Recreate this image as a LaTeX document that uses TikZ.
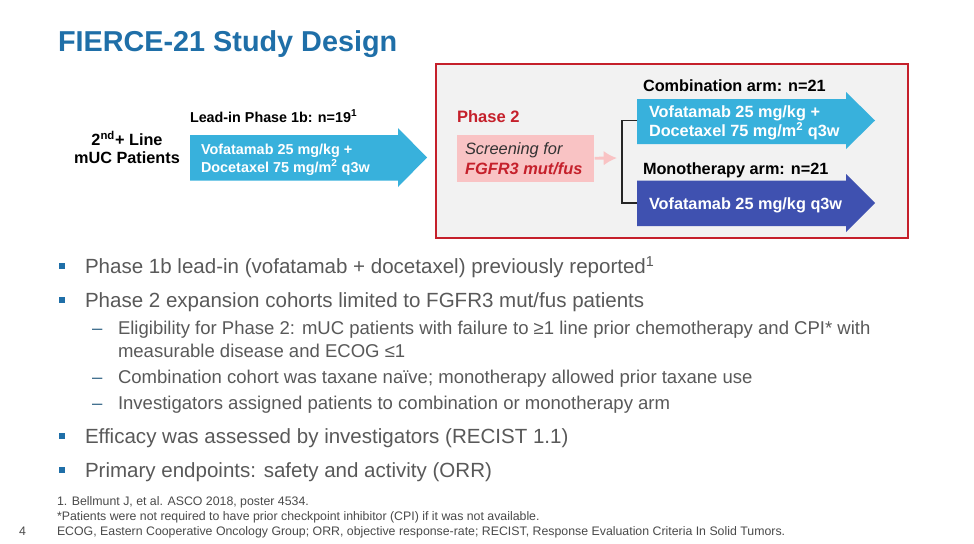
\documentclass[tikz,border=0pt]{standalone}
\usepackage{fontspec}
\usetikzlibrary{arrows.meta}
\setmainfont{Liberation Sans}
\definecolor{titleblue}{HTML}{1F6FA8}
\definecolor{armcyan}{HTML}{38B1DC}
\definecolor{armblue}{HTML}{3F51B0}
\definecolor{boxred}{HTML}{C5202B}
\definecolor{panelgray}{HTML}{F2F2F2}
\definecolor{pinkfill}{HTML}{F9C3C4}
\definecolor{bodygray}{HTML}{595959}
\definecolor{footgray}{HTML}{4A4A4A}
\newcommand{\fs}[1]{\fontsize{#1}{#1}\selectfont}
\newcommand{\sq}{\textsuperscript}
\tikzset{
  x=0.75pt,y=-0.75pt,
  lab/.style={anchor=base west,inner sep=0pt,outer sep=0pt},
  armtext/.style={lab,text=white,font=\fs{12.2}\bfseries},
  armlabel/.style={lab,text=black,font=\fs{12.2}\bfseries},
  leadtext/.style={lab,text=white,font=\fs{10.8}\bfseries},
  lvlone/.style={lab,text=bodygray,font=\fs{15.4}},
  lvltwo/.style={lab,text=bodygray,font=\fs{13.9}},
  foot/.style={lab,text=footgray,font=\fs{9.25}},
  bul/.style={fill=titleblue,draw=none,minimum size=4.6pt,inner sep=0pt,anchor=center},
  dashmark/.style={lab,text=titleblue!60!bodygray,font=\fs{13.9}},
  conn/.style={draw=black!85,line width=1.2pt},
}
\begin{document}
\begin{tikzpicture}
\useasboundingbox (0,0) rectangle (974,543);
\fill[white] (0,0) rectangle (974,543);
\node[lab,text=titleblue,font=\fs{21.6}\bfseries] (title) at (58,51) {FIERCE-21 Study Design};

% panel
\node[draw=boxred,fill=panelgray,line width=1.5pt,minimum width=354pt,minimum height=130.5pt,anchor=north west,inner sep=0pt] (panel) at (435,62.5) {};

% left
\node[align=center,font=\fs{12.2}\bfseries,inner sep=0pt,text=black] (pts) at (127,147.5) {2\sq{nd}+ Line\\[1.5pt]mUC Patients};
\node[armlabel,font=\fs{10.75}\bfseries] (leadlab) at (190,122) {Lead-in Phase 1b: n=19\sq{1}};
\fill[armcyan] (190,135) -- (398,135) -- (398,128) -- (427,157.5) -- (398,187) -- (398,180.5) -- (190,180.5) -- cycle;
\node[leadtext] (lead1) at (201,154) {Vofatamab 25 mg/kg +};
\node[leadtext] (lead2) at (201,172) {Docetaxel 75 mg/m\sq{2} q3w};

% phase 2
\node[lab,text=boxred,font=\fs{12.4}\bfseries] (ph2) at (457,122) {Phase 2};
\node[fill=pinkfill,minimum width=102.75pt,minimum height=35.25pt,anchor=north west,inner sep=0pt] (screen) at (457,134.5) {};
\node[lab,font=\fs{12.3}\itshape,text=black!80] (sc1) at (465,154) {Screening for};
\node[lab,font=\fs{12.3}\itshape\bfseries,text=boxred] (sc2) at (465,174) {FGFR3 mut/fus};
\coordinate (screenend) at (617,158);
\draw[pinkfill,line width=2.2pt,-{Latex[length=10pt,width=11pt]}] (screen.east) -- (screenend);

% arms
\fill[armcyan] (637,99) -- (846,99) -- (846,92) -- (875,120.5) -- (846,149) -- (846,144) -- (637,144) -- cycle;
\coordinate (armA) at (637,120.5);
\fill[armblue] (637,180.5) -- (846,180.5) -- (846,174) -- (875,203) -- (846,232) -- (846,226) -- (637,226) -- cycle;
\coordinate (armB) at (637,203);
\coordinate (busx) at (622,120.5);
\draw[conn] (armA) -- (busx) -- (622,203) -- (armB);
\node[armlabel] (alab) at (643,91) {Combination arm: n=21};
\node[armlabel] (blab) at (643,174) {Monotherapy arm: n=21};
\node[armtext] (a1) at (649,117.5) {Vofatamab 25 mg/kg +};
\node[armtext] (a2) at (649,136.5) {Docetaxel 75 mg/m\sq{2} q3w};
\node[armtext] (b1) at (649,209) {Vofatamab 25 mg/kg q3w};

% bullets
\node[bul] (b1m) at (62,266) {};
\node[lvlone] (t1) at (85,273) {Phase 1b lead-in (vofatamab + docetaxel) previously reported\sq{1}};
\node[bul] (b2m) at (62,300) {};
\node[lvlone] (t2) at (85,307.5) {Phase 2 expansion cohorts limited to FGFR3 mut/fus patients};
\node[dashmark] (d1) at (92,334.5) {–};
\node[lvltwo] (s1) at (118,334.5) {Eligibility for Phase 2: mUC patients with failure to ≥1 line prior chemotherapy and CPI* with};
\node[lvltwo] (s1b) at (118,357) {measurable disease and ECOG ≤1};
\node[dashmark] (d2) at (92,383.5) {–};
\node[lvltwo] (s2) at (118,383.5) {Combination cohort was taxane naïve; monotherapy allowed prior taxane use};
\node[dashmark] (d3) at (92,409) {–};
\node[lvltwo] (s3) at (118,409) {Investigators assigned patients to combination or monotherapy arm};
\node[bul] (b3m) at (62,436) {};
\node[lvlone] (t3) at (85,443.5) {Efficacy was assessed by investigators (RECIST 1.1)};
\node[bul] (b4m) at (62,470) {};
\node[lvlone] (t4) at (85,477.5) {Primary endpoints: safety and activity (ORR)};

% footnotes
\node[foot] (f1) at (57,505.5) {1. Bellmunt J, et al. ASCO 2018, poster 4534.};
\node[foot] (f2) at (57,520) {*Patients were not required to have prior checkpoint inhibitor (CPI) if it was not available.};
\node[foot] (f3) at (57,535) {ECOG, Eastern Cooperative Oncology Group; ORR, objective response-rate; RECIST, Response Evaluation Criteria In Solid Tumors.};
\node[foot] (pg) at (19,535) {4};
\end{tikzpicture}
\end{document}
